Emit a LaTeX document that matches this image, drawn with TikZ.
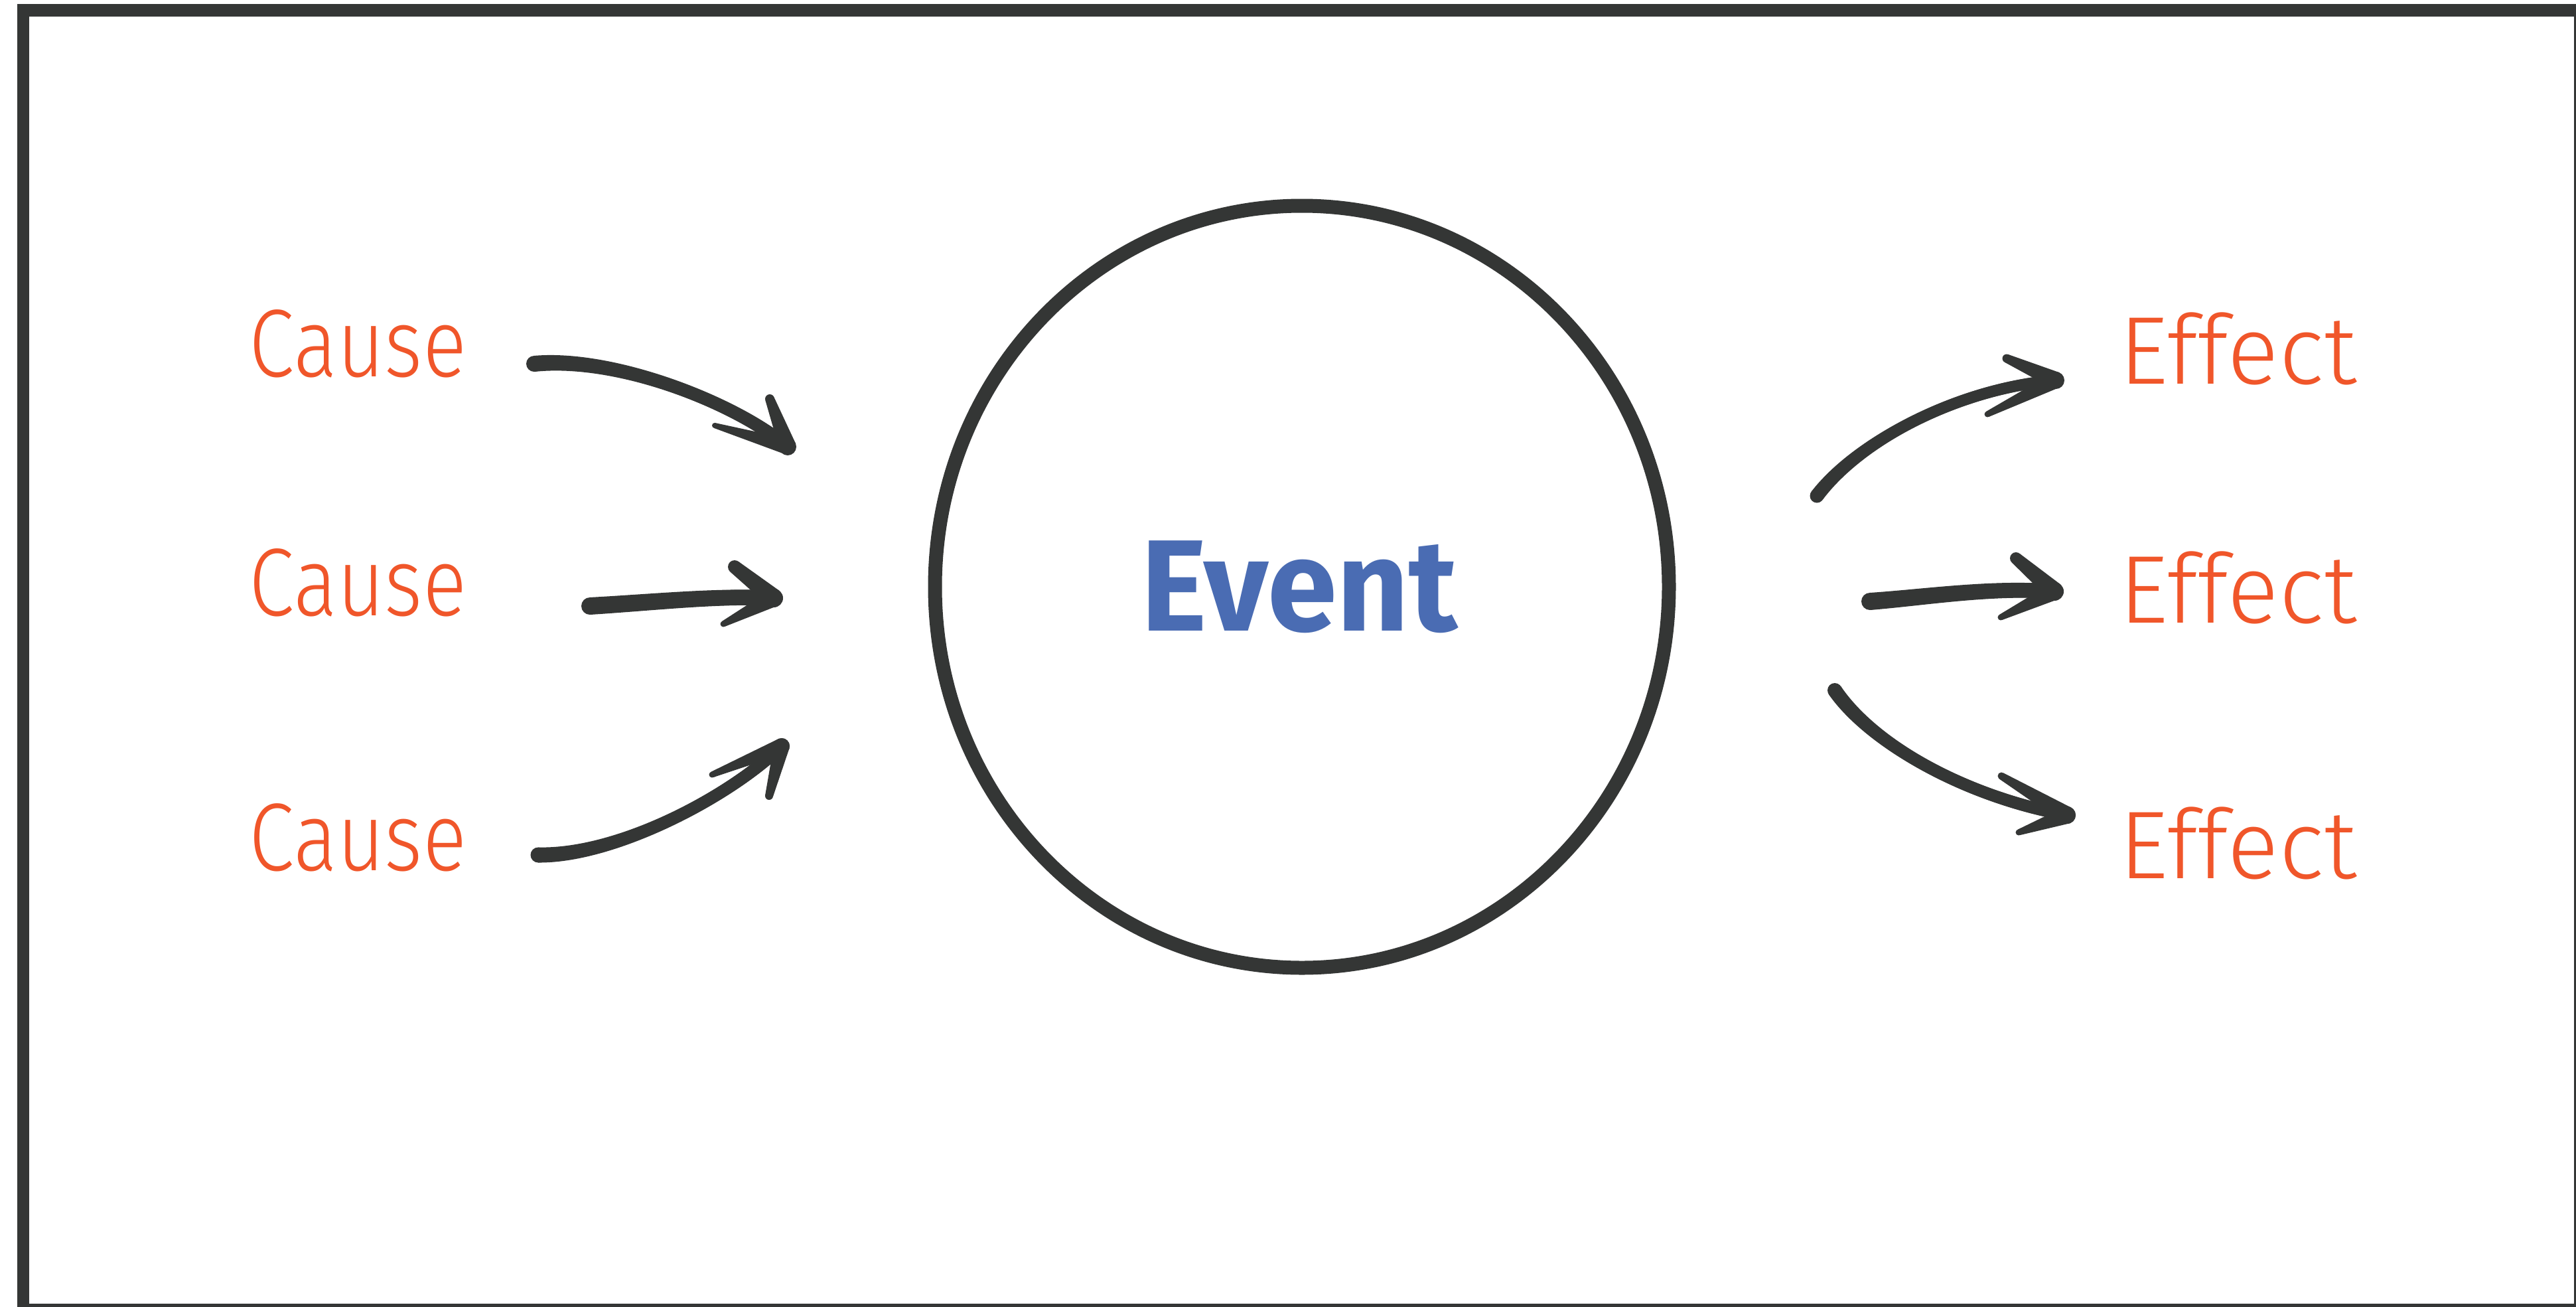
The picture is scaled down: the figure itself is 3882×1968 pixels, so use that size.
\documentclass[tikz,border=0pt]{standalone}
\usepackage{fontspec}
\newfontfamily\handfont{Fira Sans Light}
\newfontfamily\eventfont{Fira Sans Bold}
\usetikzlibrary{shapes.geometric,calc}
\definecolor{ink}{HTML}{343635}
\definecolor{orangetxt}{HTML}{F0562A}
\definecolor{bluetxt}{HTML}{4A6CB3}
\tikzset{
  frameline/.style={draw=ink, line width=18.5pt},
  eventcircle/.style={ellipse, draw=ink, line width=21pt, inner sep=0pt,
    minimum width=1106pt, minimum height=1148pt, text=bluetxt,
    font=\eventfont\fontsize{196}{200}\selectfont},
  label/.style={anchor=base, inner sep=0pt, text=orangetxt,
    font=\handfont\fontsize{145}{150}\selectfont},
}
% tapered curve: #1 start, #2 control 1, #3 control 2, #4 end, #5 half width at start, #6 half width at end
\newcommand\tapercurve[6]{%
  \pgfmathsetmacro\tcA{#5}\pgfmathsetmacro\tcD{#6}%
  \pgfmathsetmacro\tcB{(2*#5+#6)/3}\pgfmathsetmacro\tcC{(#5+2*#6)/3}%
  \pgfmathsetmacro\tcW{2*#6}%
  \fill[ink] ($(#1)!\tcA pt!90:(#2)$) .. controls ($(#2)!\tcB pt!-90:(#1)$) and ($(#3)!\tcC pt!90:(#4)$) .. ($(#4)!\tcD pt!-90:(#3)$)
    -- ($(#4)!\tcD pt!90:(#3)$) .. controls ($(#3)!\tcC pt!-90:(#4)$) and ($(#2)!\tcB pt!90:(#1)$) .. ($(#1)!\tcA pt!-90:(#2)$) -- cycle;
  \draw[ink, line width=\tcW pt, line cap=round] (#1) .. controls (#2) and (#3) .. (#4);
  \fill[ink] (#1) circle[radius=\tcA pt];
}
% tapered straight barb: #1 free end, #2 tip, #3 half width at free end, #4 half width at tip
\newcommand\taperbarb[4]{%
  \fill[ink] ($(#1)!#3pt!90:(#2)$) -- ($(#2)!#4pt!-90:(#1)$) -- ($(#2)!#4pt!90:(#1)$) -- ($(#1)!#3pt!-90:(#2)$) -- cycle;
  \fill[ink] (#1) circle[radius=#3pt];
  \fill[ink] (#2) circle[radius=#4pt];
}
\begin{document}
\begin{tikzpicture}[x=1pt, y=-1pt]
\useasboundingbox (0,0) rectangle (3882,1968);
\fill[white] (0,0) rectangle (3882,1968);
\draw[frameline] (35,15.3) rectangle (3888,1973);

\node[eventcircle] (ev) at (1962,884) {\hspace*{-8pt}\scalebox{0.965}[1]{Event}};

\node[label] (c1) at (539.5,567) {\scalebox{0.85}[1]{Cause}};
\node[label] (c2) at (539.5,927) {\scalebox{0.85}[1]{Cause}};
\node[label] (c3) at (539.5,1311) {\scalebox{0.85}[1]{Cause}};
\node[label] (e1) at (3373,578) {Effect};
\node[label] (e2) at (3373,938) {Effect};
\node[label] (e3) at (3373,1323) {Effect};

% cause arrows
\coordinate (a1s) at (805,548);  \coordinate (a1p) at (930,536);
\coordinate (a1q) at (1110,608); \coordinate (a1t) at (1187,673);
\coordinate (a1b) at (1160,601); \coordinate (a1c) at (1077,641);
\tapercurve{a1s}{a1p}{a1q}{a1t}{12}{9.5}
\taperbarb{a1b}{a1t}{7}{13}
\taperbarb{a1c}{a1t}{4}{12}

\coordinate (a2s) at (889,913);  \coordinate (a2p) at (990,907);
\coordinate (a2q) at (1080,897); \coordinate (a2t) at (1166,901);
\coordinate (a2b) at (1107,854); \coordinate (a2c) at (1090,940);
\tapercurve{a2s}{a2p}{a2q}{a2t}{13}{11.5}
\taperbarb{a2b}{a2t}{10}{14}
\taperbarb{a2c}{a2t}{4.5}{13}

\coordinate (a3s) at (811,1288);  \coordinate (a3p) at (930,1290);
\coordinate (a3q) at (1100,1200); \coordinate (a3t) at (1178,1124);
\coordinate (a3b) at (1073,1167); \coordinate (a3c) at (1159,1199);
\tapercurve{a3s}{a3p}{a3q}{a3t}{11.5}{9}
\taperbarb{a3b}{a3t}{4.5}{12}
\taperbarb{a3c}{a3t}{6}{12}

% effect arrows
\coordinate (b1s) at (2738,747);  \coordinate (b1p) at (2800,665);
\coordinate (b1q) at (2950,585);  \coordinate (b1t) at (3098,573);
\coordinate (b1b) at (3024,540);  \coordinate (b1c) at (2995,624);
\tapercurve{b1s}{b1p}{b1q}{b1t}{10.5}{8.5}
\taperbarb{b1b}{b1t}{6.5}{13}
\taperbarb{b1c}{b1t}{4.5}{12}

\coordinate (b2s) at (2818,906);  \coordinate (b2p) at (2900,900);
\coordinate (b2q) at (3000,884);  \coordinate (b2t) at (3096,891);
\coordinate (b2b) at (3038,841);  \coordinate (b2c) at (3015,930);
\tapercurve{b2s}{b2p}{b2q}{b2t}{13}{11}
\taperbarb{b2b}{b2t}{9}{14}
\taperbarb{b2c}{b2t}{4.5}{13}

\coordinate (b3s) at (2765,1040);  \coordinate (b3p) at (2820,1120);
\coordinate (b3q) at (2960,1200);  \coordinate (b3t) at (3115,1228);
\coordinate (b3b) at (3016,1169);  \coordinate (b3c) at (3042,1254);
\tapercurve{b3s}{b3p}{b3q}{b3t}{11}{9}
\taperbarb{b3b}{b3t}{5.5}{13}
\taperbarb{b3c}{b3t}{4.5}{13}
\end{tikzpicture}
\end{document}
